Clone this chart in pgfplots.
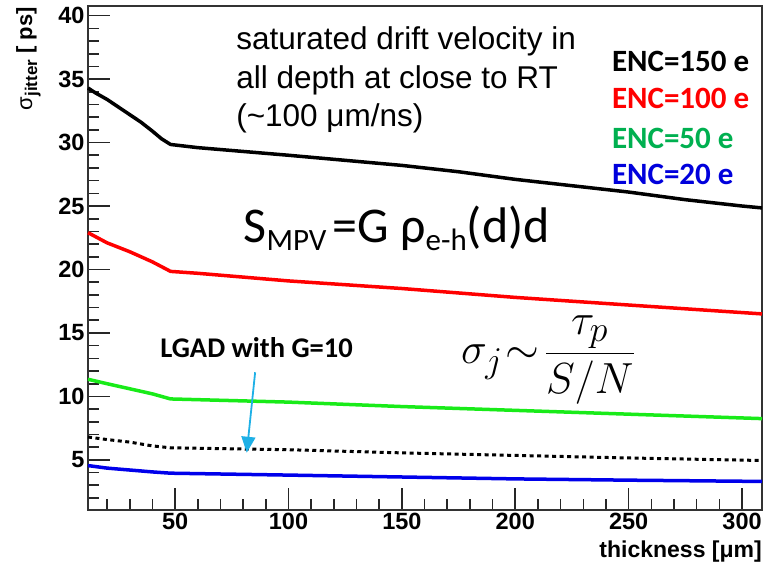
\documentclass[border=0pt]{standalone}
\usepackage{fontspec}
\setmainfont{Liberation Sans}
\newfontfamily\calibri{Carlito}
\usepackage{pgfplots}
\pgfplotsset{compat=1.18}
\usetikzlibrary{arrows.meta}
\definecolor{lred}{RGB}{255,0,0}
\definecolor{lgreen}{RGB}{25,235,25}
\definecolor{lblue}{RGB}{0,0,235}
\definecolor{tgreen}{RGB}{0,176,80}
\definecolor{tblue}{RGB}{0,0,220}
\definecolor{arrowblue}{RGB}{30,176,230}
\begin{document}
\begin{tikzpicture}
\path[use as bounding box] (-88pt,-54pt) rectangle (675pt,510pt);
\begin{axis}[
 at={(0pt,0pt)}, anchor=south west,
 scale only axis, width=674pt, height=504pt,
 xmin=11.6, xmax=308.8, ymin=1.05, ymax=40.76,
 xtick={50,100,...,300}, ytick={5,10,...,40},
 minor xtick={20,30,...,300}, minor ytick={2,3,...,40},
 tick align=inside, xtick pos=bottom, ytick pos=left,
 major tick length=22pt, minor tick length=11pt,
 every tick/.style={black!85, line width=1.6pt},
 axis line style={black!80, line width=1.6pt},
 /pgf/number format/assume math mode=true,
 ticklabel style={font=\fontsize{23.5}{23.5}\selectfont\bfseries},
 clip=false,
]
\addplot[black, line width=3.5pt, line join=round] coordinates {
(11.6,34.3) (15,33.9) (20,33.4) (25,32.8) (30,32.2) (35,31.6) (40,30.9) (44,30.3) (48,29.85)
(60,29.6) (80,29.3) (100,29.0) (125,28.6) (150,28.2) (175,27.7) (200,27.1) (225,26.6) (250,26.1) (275,25.5) (300,25.0) (308.8,24.85)};
\addplot[lred, line width=3.5pt, line join=round] coordinates {
(11.6,22.9) (20,22.1) (30,21.4) (40,20.6) (48,19.85) (60,19.7) (100,19.1) (150,18.5) (200,17.8) (250,17.2) (308.8,16.5)};
\addplot[lgreen, line width=3.5pt, line join=round] coordinates {
(11.6,11.35) (20,11.0) (30,10.6) (40,10.2) (48,9.8) (100,9.55) (150,9.2) (200,8.9) (250,8.6) (308.8,8.25)};
\addplot[black, line width=3pt, dash pattern=on 4pt off 3.5pt] coordinates {
(11.6,6.8) (20,6.6) (30,6.4) (40,6.1) (48,5.95) (100,5.8) (150,5.55) (200,5.35) (250,5.15) (308.8,4.95)};
\addplot[lblue, line width=3.5pt, line join=round] coordinates {
(11.6,4.55) (20,4.35) (30,4.2) (40,4.05) (48,3.95) (100,3.8) (150,3.65) (200,3.5) (250,3.4) (308.8,3.3)};

\node[anchor=base west, inner sep=0, font=\fontsize{31.5}{31.5}\selectfont] at (axis cs:76.9,37.30) {saturated drift velocity in};
\node[anchor=base west, inner sep=0, font=\fontsize{31.5}{31.5}\selectfont] at (axis cs:76.9,34.22) {all depth at close to RT};
\node[anchor=base west, inner sep=0, font=\fontsize{31.5}{31.5}\selectfont] at (axis cs:76.9,31.23) {(\textasciitilde100 μm/ns)};

\node[anchor=base west, inner sep=0, font=\calibri\bfseries\fontsize{31}{31}\selectfont, text=black] at (axis cs:242.6,35.56) {ENC=150 e};
\node[anchor=base west, inner sep=0, font=\calibri\bfseries\fontsize{31}{31}\selectfont, text=lred] at (axis cs:242.6,32.65) {ENC=100 e};
\node[anchor=base west, inner sep=0, font=\calibri\bfseries\fontsize{31}{31}\selectfont, text=tgreen] at (axis cs:242.6,29.57) {ENC=50 e};
\node[anchor=base west, inner sep=0, font=\calibri\bfseries\fontsize{31}{31}\selectfont, text=tblue] at (axis cs:242.6,26.66) {ENC=20 e};

\node[anchor=base west, inner sep=0, font=\calibri\fontsize{50}{50}\selectfont] at (axis cs:80.1,22.09) {S\raisebox{-8pt}{\fontsize{31}{31}\selectfont MPV}\hspace{6pt}=G ρ\raisebox{-8pt}{\fontsize{31}{31}\selectfont e-h}(d)d};

\node[anchor=base west, inner sep=0, font=\calibri\bfseries\fontsize{28.5}{28.5}\selectfont] at (axis cs:43.4,13.03) {LGAD with G=10};

\node[anchor=west, inner sep=0] at (axis cs:176,12.85) {\scalebox{1.75}{\Huge$\sigma_j\mkern1mu{\sim}\mkern2mu\displaystyle\frac{\tau_p}{S/N}$}};

\draw[arrowblue, line width=1.8pt, -{Triangle[length=16pt,width=14pt]}] (axis cs:85.3,11.9) -- (axis cs:81.6,5.56);

\node[rotate=90, anchor=base east, inner sep=0, font=\fontsize{22}{22}\selectfont\bfseries] at (axis cs:-13.05,40.69) {\mdseries σ\raisebox{-5pt}{\bfseries\fontsize{17}{17}\selectfont jitter}\ \bfseries[ ps]};

\node[anchor=base east, inner sep=0, font=\fontsize{23}{23}\selectfont\bfseries] at (axis cs:308.8,-2.66) {thickness [μm]};
\end{axis}
\end{tikzpicture}
\end{document}
